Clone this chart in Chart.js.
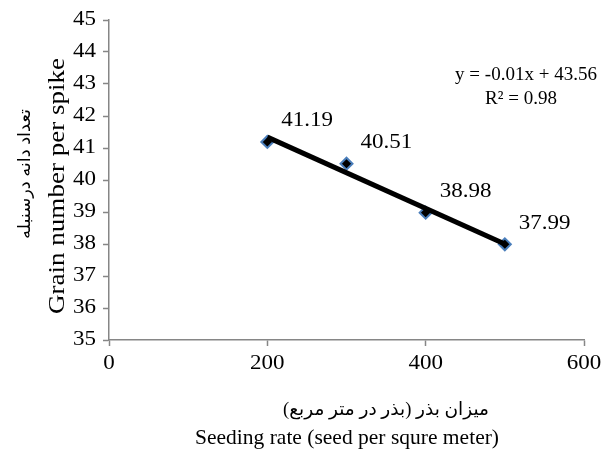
<!DOCTYPE html>
<html><head><meta charset="utf-8">
<script src="https://cdn.jsdelivr.net/npm/chart.js@4"></script>
<style>html,body{margin:0;padding:0;background:#fff;}#wrap{width:605px;height:457px;position:relative;}</style>
</head><body><div id="wrap"><canvas id="c" width="605" height="457"></canvas></div>
<script>
const seedingRates = [200, 300, 400, 500];
const grainNumbers = [41.19, 40.51, 38.98, 37.99];
const trendX = [200, 500];
const trendY = [41.34, 38.0];
const xTicks = [0, 200, 400, 600];
const yTicks = [35, 36, 37, 38, 39, 40, 41, 42, 43, 44, 45];
const equationText = ['y = -0.01x + 43.56', 'R² = 0.98'];
const yTitleFa = 'تعداد دانه درسنبله';
const yTitleEn = 'Grain number per spike';
const xTitleFa = 'میزان بذر (بذر در متر مربع)';
const xTitleEn = 'Seeding rate (seed per squre meter)';

const SERIF = "'Liberation Serif', 'Times New Roman', 'DejaVu Sans', serif";
const SX = 1.15;

function txt(ctx, s, x, y, align, size, sx) {
  ctx.save();
  ctx.translate(x, y);
  ctx.scale(sx, 1);
  ctx.font = size + 'px ' + SERIF;
  ctx.textAlign = align;
  ctx.textBaseline = 'middle';
  ctx.fillText(s, 0, 0);
  ctx.restore();
}
function wtxt(ctx, s, x, y, size, len) {
  ctx.save();
  ctx.translate(x, y);
  ctx.font = size + 'px ' + SERIF;
  const w = ctx.measureText(s).width;
  ctx.scale(len / w, 1);
  ctx.textAlign = 'center';
  ctx.textBaseline = 'middle';
  ctx.fillText(s, 0, 0);
  ctx.restore();
}
function vtxt(ctx, s, x, y, size, len) {
  ctx.save();
  ctx.translate(x, y);
  ctx.rotate(-Math.PI / 2);
  wtxt(ctx, s, 0, 0, size, len);
  ctx.restore();
}

const extras = {
  id: 'extras',
  afterDraw(chart) {
    const ctx = chart.ctx;
    const xs = chart.scales.x, ys = chart.scales.y;
    ctx.save();
    ctx.fillStyle = '#000';
    // tick labels
    xTicks.forEach(v => txt(ctx, String(v), xs.getPixelForValue(v), 364, 'center', 20, SX));
    yTicks.forEach(v => txt(ctx, String(v), 96, ys.getPixelForValue(v), 'right', 20, SX));
    // data labels
    seedingRates.forEach((x, i) => {
      const px = xs.getPixelForValue(x), py = ys.getPixelForValue(grainNumbers[i]);
      txt(ctx, grainNumbers[i].toFixed(2), px + 14, py - 21, 'left', 20, SX);
    });
    // equation
    txt(ctx, equationText[0], 526, 75, 'center', 19, 1);
    txt(ctx, equationText[1], 521, 99, 'center', 19, 1);
    // y titles
    vtxt(ctx, yTitleEn, 58, 186, 24, 256);
    vtxt(ctx, yTitleFa, 26, 174, 17, 130);
    // x titles
    wtxt(ctx, xTitleFa, 386, 410, 18, 206);
    wtxt(ctx, xTitleEn, 347, 438, 21, 304);
    ctx.restore();
  }
};

new Chart(document.getElementById('c'), {
  type: 'scatter',
  data: {
    datasets: [
      {
        type: 'line',
        data: trendX.map((x, i) => ({x: x, y: trendY[i]})),
        borderColor: '#000',
        borderWidth: 5,
        pointRadius: 0,
        fill: false
      },
      {
        data: seedingRates.map((x, i) => ({x: x, y: grainNumbers[i]})),
        pointStyle: 'rectRot',
        pointRadius: 6,
        backgroundColor: '#000',
        borderColor: '#4A7EBB',
        borderWidth: 2,
        showLine: false
      }
    ]
  },
  options: {
    responsive: false,
    animation: false,
    layout: {padding: {top: 20, right: 21, left: 0, bottom: 0}},
    plugins: {legend: {display: false}, tooltip: {enabled: false}},
    scales: {
      x: {
        type: 'linear', min: 0, max: 600,
        afterBuildTicks(s) { s.ticks = xTicks.map(v => ({value: v})); },
        afterFit(s) { s.height = 117; },
        grid: {display: true, drawOnChartArea: false, drawTicks: true, tickLength: 6, tickColor: '#868686', tickWidth: 1.5},
        border: {color: '#868686', width: 1.5},
        ticks: {display: false}
      },
      y: {
        type: 'linear', min: 35, max: 45,
        afterBuildTicks(s) { s.ticks = yTicks.map(v => ({value: v})); },
        afterFit(s) { s.width = 109; },
        grid: {display: true, drawOnChartArea: false, drawTicks: true, tickLength: 6, tickColor: '#868686', tickWidth: 1.5},
        border: {color: '#868686', width: 1.5},
        ticks: {display: false}
      }
    }
  },
  plugins: [extras]
});
</script>
</body></html>
